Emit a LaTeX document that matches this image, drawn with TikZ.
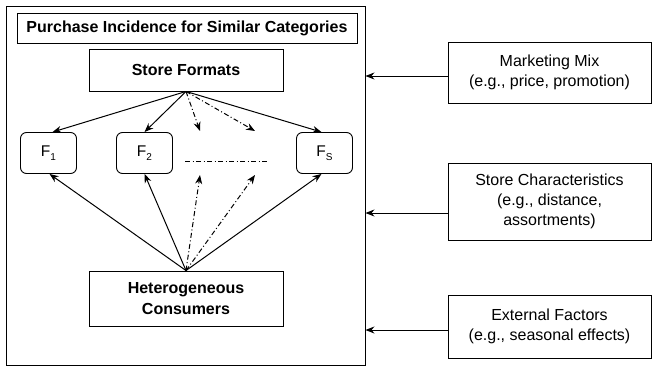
\documentclass[tikz,border=0pt]{standalone}
\usepackage{fontspec}
\setmainfont{Liberation Sans}
\usetikzlibrary{arrows.meta,calc}
\newcommand{\fsub}[1]{\raisebox{-4pt}{\fontsize{10}{10}\selectfont #1}}
\begin{document}
\begin{tikzpicture}[x=1pt,y=-1pt,
  box/.style={draw,line width=0.9pt,inner sep=0pt,align=center},
  fbox/.style={box,rounded corners=6pt,minimum width=56pt,minimum height=41pt,font=\fontsize{15.5}{18}\selectfont},
  rbox/.style={box,minimum width=203pt,font=\fontsize{16}{20}\selectfont},
  conn/.style={line width=1pt,-{Stealth[length=9pt,width=7pt]}},
  dconn/.style={conn,dash pattern=on 5pt off 2.5pt on 1pt off 2.5pt},
  bold/.style={font=\fontsize{16}{20.5}\selectfont\bfseries}]
\useasboundingbox (0,0) rectangle (652,367);
% outer
\node[box,minimum width=359pt,minimum height=359pt] (outer) at (185.5,185.5) {};
\node[box,bold,minimum width=340pt,minimum height=30pt] (title) at (187,28) {Purchase Incidence for Similar Categories};
\node[box,bold,minimum width=194pt,minimum height=42pt] (sf) at (186,70) {Store Formats};
\node[box,bold,minimum width=194pt,minimum height=55pt] (hc) at (186,298.5) {Heterogeneous\\Consumers};
\node[fbox] (f1) at (48.5,153) {F\fsub{1}};
\node[fbox] (f2) at (144.5,153) {F\fsub{2}};
\node[fbox] (fs) at (324.5,153) {F\fsub{S}};
% dotted targets
\coordinate (t1) at (200,131);
\coordinate (t2) at (255,131);
\coordinate (b1) at (200,175);
\coordinate (b2) at (255,175);
\coordinate (ml) at (185,161);
\coordinate (mr) at (268,161);
% top arrows
\draw[conn] (sf.south) -- ([xshift=4pt]f1.north);
\draw[conn] (sf.south) -- (f2.north);
\draw[dconn] (sf.south) -- (t1);
\draw[dconn] (sf.south) -- (t2);
\draw[conn] (sf.south) -- ([xshift=-3pt]fs.north);
% bottom arrows
\draw[conn] (hc.north) -- ([xshift=1pt]f1.south);
\draw[conn] (hc.north) -- (f2.south);
\draw[dconn] (hc.north) -- (b1);
\draw[dconn] (hc.north) -- (b2);
\draw[conn] (hc.north) -- ([xshift=-3pt]fs.south);
\draw[line width=1pt,dash pattern=on 5pt off 2.5pt on 1pt off 2.5pt] (ml) -- (mr);
% right boxes
\node[rbox,minimum height=61pt] (mm) at (549.5,72.5) {Marketing Mix\\(e.g., price, promotion)};
\node[rbox,minimum height=77pt] (sc) at (549.5,201.5) {Store Characteristics\\(e.g., distance,\\assortments)};
\node[rbox,minimum height=63pt] (ef) at (549.5,326.5) {External Factors\\(e.g., seasonal effects)};
\draw[conn] ([yshift=-3.5pt]mm.west) -- ([yshift=-3.5pt]mm.west -| outer.east);
\draw[conn] ([yshift=-11.5pt]sc.west) -- ([yshift=-11.5pt]sc.west -| outer.east);
\draw[conn] ([yshift=-3.5pt]ef.west) -- ([yshift=-3.5pt]ef.west -| outer.east);
\end{tikzpicture}
\end{document}
